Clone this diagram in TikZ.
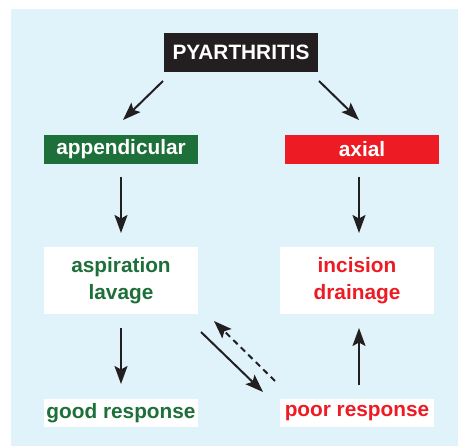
\documentclass[tikz,border=0pt]{standalone}
\usepackage{fontspec}
\setmainfont{Liberation Sans}
\usetikzlibrary{arrows.meta}
\definecolor{bgblue}{RGB}{224,243,251}
\definecolor{dgreen}{RGB}{30,112,58}
\definecolor{bred}{RGB}{237,28,36}
\definecolor{boxblack}{RGB}{35,31,32}
\tikzset{
  box/.style={inner sep=0pt, minimum width=154pt, align=center, font=\fontsize{20.8}{27}\selectfont\bfseries},
  arr/.style={line width=2pt, draw=boxblack, -{Stealth[length=18pt,width=13pt,inset=3.5pt]}},
}
\begin{document}
\begin{tikzpicture}[x=1pt,y=-1pt]
\useasboundingbox (0,0) rectangle (458,446);
\fill[white] (0,0) rectangle (458,446);
\fill[bgblue] (11,9) rectangle (458,446);
\node[box, fill=boxblack, text=white, minimum height=39pt] (py) at (241,52.5) {PYARTHRITIS};
\node[box, fill=dgreen, text=white, minimum height=29pt] (app) at (121,149.5) {appendicular};
\node[box, fill=bred, text=white, minimum height=29pt] (ax) at (362,149.5) {axial};
\node[box, fill=white, text=dgreen, minimum height=67pt] (asp) at (121,280.5) {aspiration\\lavage};
\node[box, fill=white, text=bred, minimum height=67pt] (inc) at (357,280.5) {incision\\drainage};
\node[box, fill=white, text=dgreen, minimum height=28pt] (good) at (121,413) {good response};
\node[box, fill=white, text=bred, minimum height=28pt] (poor) at (357,413) {poor response};
% arrow endpoints
\coordinate (a1s) at (163,81); \coordinate (a1e) at (123,120);
\coordinate (a2s) at (319,81); \coordinate (a2e) at (359,120);
\coordinate (a3s) at (121,177); \coordinate (a3e) at (121,233);
\coordinate (a4s) at (359,177); \coordinate (a4e) at (359,233);
\coordinate (a5s) at (121,328); \coordinate (a5e) at (121,384);
\coordinate (a6s) at (359,385); \coordinate (a6e) at (359,328);
\coordinate (a7s) at (201,332); \coordinate (a7e) at (263,392);
\coordinate (a8s) at (275,381); \coordinate (a8e) at (214,321);
\draw[arr] (a1s) -- (a1e);
\draw[arr] (a2s) -- (a2e);
\draw[arr] (a3s) -- (a3e);
\draw[arr] (a4s) -- (a4e);
\draw[arr] (a5s) -- (a5e);
\draw[arr] (a6s) -- (a6e);
\draw[arr] (a7s) -- (a7e);
\draw[arr, dash pattern=on 6pt off 4.5pt] (a8s) -- (a8e);
\end{tikzpicture}
\end{document}
